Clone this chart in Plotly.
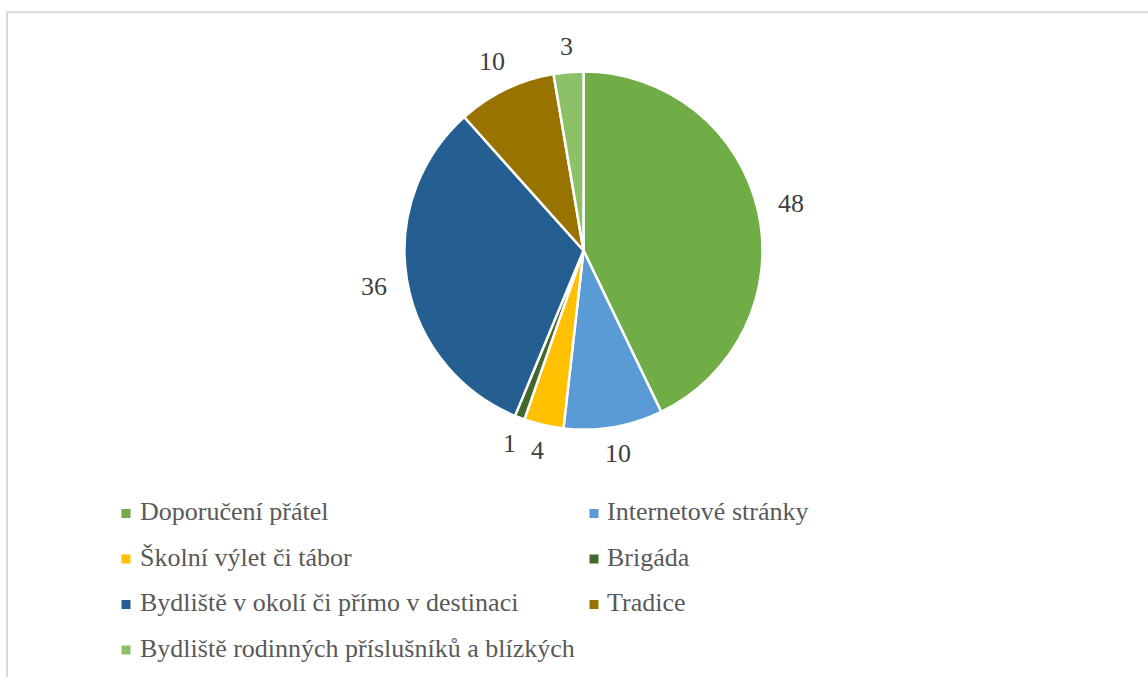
import math
import plotly.graph_objects as go

categories = [
    "Doporučení přátel",
    "Internetové stránky",
    "Školní výlet či tábor",
    "Brigáda",
    "Bydliště v okolí či přímo v destinaci",
    "Tradice",
    "Bydliště rodinných příslušníků a blízkých",
]
values = [48, 10, 4, 1, 36, 10, 3]
colors = ["#70AD47", "#5B9BD5", "#FFC000", "#43682B", "#255E91", "#997300", "#8CC168"]

W, H = 1148, 677
FONT = "Times New Roman, Liberation Serif, DejaVu Serif, serif"

# pie geometry in pixels
cx, cy, R = 583.5, 250.5, 179.0

def px(x):
    return x / W

def py(y):
    return 1 - y / H

fig = go.Figure()
fig.add_trace(go.Pie(
    labels=categories,
    values=values,
    sort=False,
    direction="clockwise",
    rotation=0,
    marker=dict(colors=colors, line=dict(color="white", width=2.5)),
    textinfo="none",
    hoverinfo="label+value",
    showlegend=False,
    domain=dict(x=[px(cx - R), px(cx + R)], y=[py(cy + R), py(cy - R)]),
))

annotations = []
shapes = []

# data labels placed just outside each slice
total = sum(values)
cum = 0
for v in values:
    mid = (cum + v / 2) / total * 2 * math.pi
    cum += v
    s, c = math.sin(mid), math.cos(mid)
    w = 15 * len(str(v))
    half = abs(s) * w / 2 + abs(c) * 7
    d = R - 2 + 20 + half
    tx = cx + d * s
    ty = cy - d * c
    annotations.append(dict(
        x=px(tx), y=py(ty), xref="paper", yref="paper",
        text=str(v), showarrow=False, xanchor="center", yanchor="middle",
        font=dict(family=FONT, size=26, color="#404040"),
    ))

# legend (two columns, row-major)
col_marker_x = [126, 594]
col_text_x = [138, 605]
row_y0, row_dy = 513.5, 45.5
for i, (lab, col) in enumerate(zip(categories, colors)):
    r, k = divmod(i, 2)
    yc = row_y0 + r * row_dy
    mx = col_marker_x[k]
    shapes.append(dict(
        type="rect", xref="paper", yref="paper",
        x0=px(mx - 4.5), x1=px(mx + 4.5), y0=py(yc + 4.5), y1=py(yc - 4.5),
        fillcolor=col, line=dict(width=0),
    ))
    annotations.append(dict(
        x=px(col_text_x[k]), y=py(yc - 2), xref="paper", yref="paper",
        text=lab, showarrow=False, xanchor="left", yanchor="middle",
        font=dict(family=FONT, size=26, color="#595959"),
    ))

# chart area frame (partially visible)
shapes.append(dict(
    type="rect", xref="paper", yref="paper",
    x0=px(7), x1=px(W + 20), y0=py(H + 20), y1=py(12.3),
    line=dict(color="#D9D9D9", width=2), fillcolor="rgba(0,0,0,0)",
    layer="below",
))

fig.update_layout(
    width=W, height=H,
    margin=dict(l=0, r=0, t=0, b=0),
    paper_bgcolor="white",
    plot_bgcolor="white",
    font=dict(family=FONT),
    annotations=annotations,
    shapes=shapes,
)

fig.write_html(
    "out.html",
    config={"displayModeBar": False},
    post_script="document.body.style.margin='0';document.body.style.overflow='hidden';",
)
